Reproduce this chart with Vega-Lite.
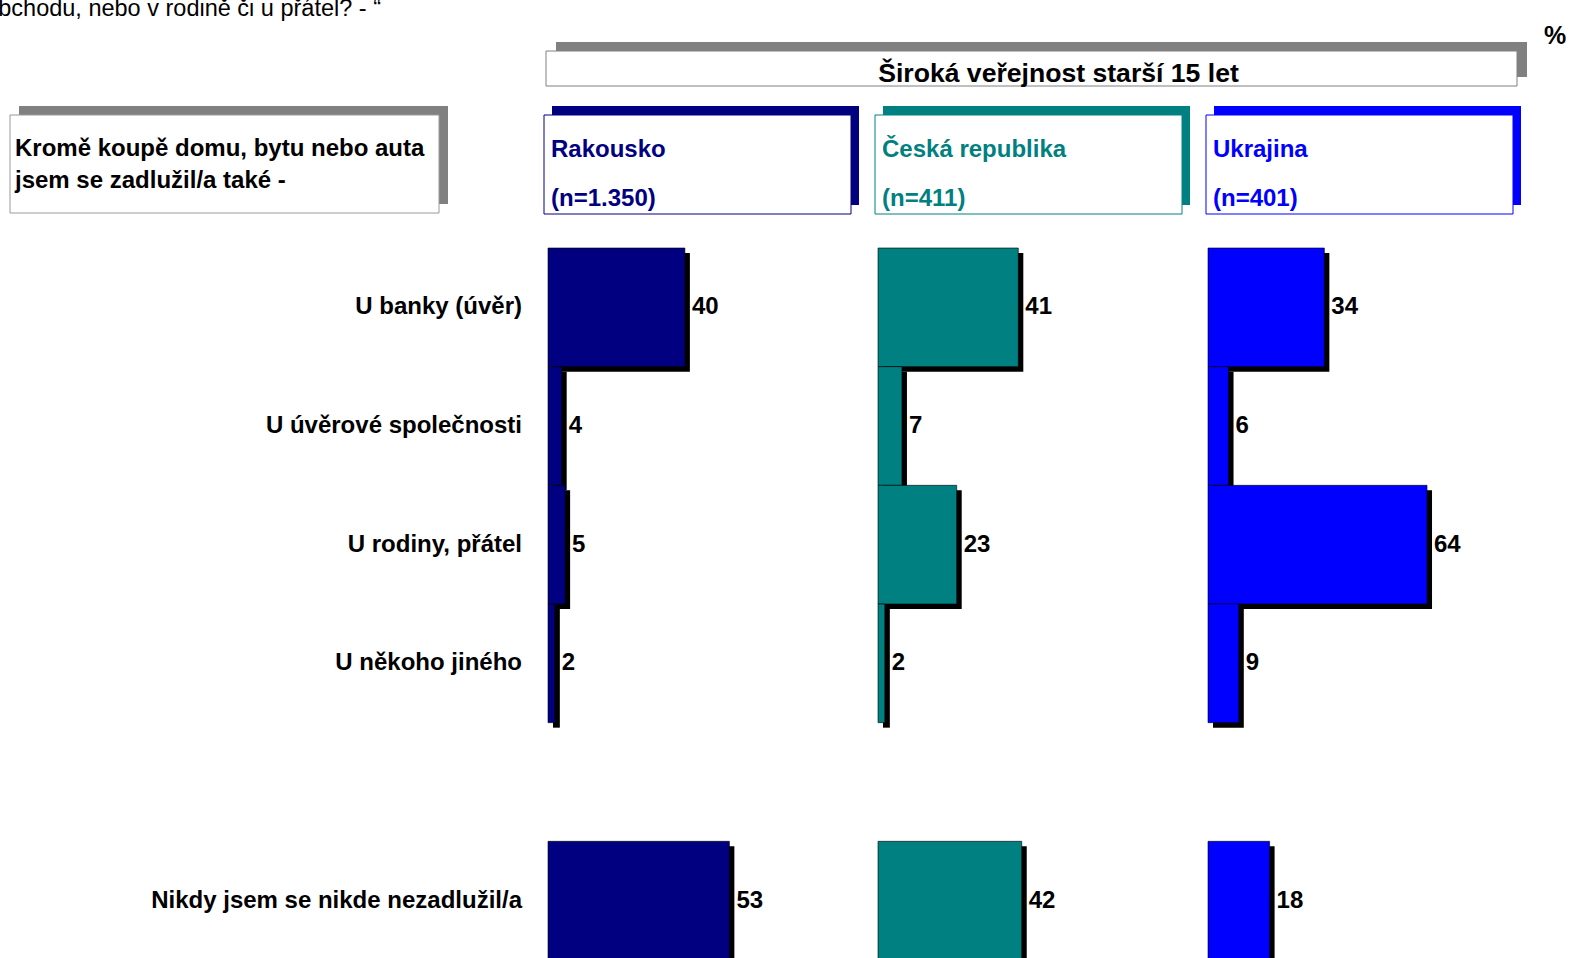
{
  "$schema": "https://vega.github.io/schema/vega-lite/v6.json",
  "autosize": {"type": "none"},
  "padding": {"left": 10, "top": 51, "right": 1559, "bottom": 907},
  "background": "white",
  "config": {"view": {"stroke": null}, "font": "Liberation Sans"},
  "datasets": {
    "bars": [
      {"country": "Rakousko", "cat": "U banky (úvěr)", "value": 40},
      {"country": "Rakousko", "cat": "U úvěrové společnosti", "value": 4},
      {"country": "Rakousko", "cat": "U rodiny, přátel", "value": 5},
      {"country": "Rakousko", "cat": "U někoho jiného", "value": 2},
      {"country": "Rakousko", "cat": "Nikdy jsem se nikde nezadlužil/a", "value": 53},
      {"country": "Česká republika", "cat": "U banky (úvěr)", "value": 41},
      {"country": "Česká republika", "cat": "U úvěrové společnosti", "value": 7},
      {"country": "Česká republika", "cat": "U rodiny, přátel", "value": 23},
      {"country": "Česká republika", "cat": "U někoho jiného", "value": 2},
      {"country": "Česká republika", "cat": "Nikdy jsem se nikde nezadlužil/a", "value": 42},
      {"country": "Ukrajina", "cat": "U banky (úvěr)", "value": 34},
      {"country": "Ukrajina", "cat": "U úvěrové společnosti", "value": 6},
      {"country": "Ukrajina", "cat": "U rodiny, přátel", "value": 64},
      {"country": "Ukrajina", "cat": "U někoho jiného", "value": 9},
      {"country": "Ukrajina", "cat": "Nikdy jsem se nikde nezadlužil/a", "value": 18}
    ],
    "headers": [
      {"country": "Rakousko", "n": "(n=1.350)"},
      {"country": "Česká republika", "n": "(n=411)"},
      {"country": "Ukrajina", "n": "(n=401)"}
    ]
  },
  "spacing": 18,
  "bounds": "full",
  "vconcat": [
    {
      "spacing": 16,
      "bounds": "flush",
      "hconcat": [
        {
          "width": 520, "height": 35,
          "data": {"values": [{"t": "v obchodu, nebo v rodině či u přátel? - “"}]},
          "mark": {"type": "text", "align": "right", "baseline": "alphabetic", "dx": 371, "dy": -35, "fontSize": 23.5, "color": "#000000"},
          "encoding": {
            "x": {"datum": 0, "type": "quantitative", "scale": {"domain": [0, 1], "nice": false}, "axis": null},
            "y": {"datum": 1, "type": "quantitative", "scale": {"domain": [0, 1], "nice": false}, "axis": null},
            "text": {"field": "t"}
          }
        },
        {
          "width": 971, "height": 35,
          "data": {"values": [{"t": "Široká veřejnost starší 15 let", "p": "%"}]},
          "encoding": {
            "x": {"datum": 0, "type": "quantitative", "scale": {"domain": [0, 1], "nice": false, "zero": false}, "axis": null},
            "y": {"datum": 0, "type": "quantitative", "scale": {"domain": [0, 1], "nice": false, "zero": false}, "axis": null}
          },
          "layer": [
            {"mark": {"type": "rect", "fill": "#808080", "xOffset": 10, "x2Offset": 10, "yOffset": -9, "y2Offset": -9},
             "encoding": {"x2": {"datum": 1}, "y2": {"datum": 1}}},
            {"mark": {"type": "rect", "fill": "#ffffff", "stroke": "#808080", "strokeWidth": 1},
             "encoding": {"x2": {"datum": 1}, "y2": {"datum": 1}}},
            {"mark": {"type": "text", "align": "center", "baseline": "alphabetic", "dx": 27, "dy": -4, "fontSize": 26.6, "fontWeight": "bold", "color": "#000000"},
             "encoding": {"x": {"datum": 0.5}, "y": {"datum": 0}, "text": {"field": "t"}}},
            {"mark": {"type": "text", "align": "left", "baseline": "alphabetic", "dx": 27, "dy": -7, "fontSize": 25, "fontWeight": "bold", "color": "#000000"},
             "encoding": {"x": {"datum": 1}, "y": {"datum": 1}, "text": {"field": "p"}}}
          ]
        }
      ]
    },
    {
      "spacing": 32,
      "bounds": "full",
      "vconcat": [
        {
          "spacing": 105,
          "bounds": "flush",
          "hconcat": [
            {
              "width": 429, "height": 98,
              "data": {"values": [{"q": ["Kromě koupě domu, bytu nebo auta", "jsem se zadlužil/a také -"]}]},
              "encoding": {
                "x": {"datum": 0, "type": "quantitative", "scale": {"domain": [0, 1], "nice": false, "zero": false}, "axis": null},
                "y": {"datum": 0, "type": "quantitative", "scale": {"domain": [0, 1], "nice": false, "zero": false}, "axis": null}
              },
              "layer": [
                {"mark": {"type": "rect", "fill": "#808080", "xOffset": 9, "x2Offset": 9, "yOffset": -9, "y2Offset": -9},
                 "encoding": {"x2": {"datum": 1}, "y2": {"datum": 1}}},
                {"mark": {"type": "rect", "fill": "#ffffff", "stroke": "#9a9a9a", "strokeWidth": 1},
                 "encoding": {"x2": {"datum": 1}, "y2": {"datum": 1}}},
                {"mark": {"type": "text", "align": "left", "baseline": "middle", "dx": 5, "dy": -15, "lineHeight": 32, "fontSize": 24, "fontWeight": "bold", "color": "#000000"},
                 "encoding": {"y": {"datum": 0.5}, "text": {"field": "q"}}}
              ]
            },
            {
              "spacing": 24,
              "bounds": "flush",
              "hconcat": [
                {
                  "width": 307, "height": 99,
                  "data": {"name": "headers"},
                  "transform": [{"filter": "datum.country === 'Rakousko'"}],
                  "encoding": {
                    "x": {"datum": 0, "type": "quantitative", "scale": {"domain": [0, 1], "nice": false, "zero": false}, "axis": null},
                    "y": {"datum": 0, "type": "quantitative", "scale": {"domain": [0, 1], "nice": false, "zero": false}, "axis": null}
                  },
                  "layer": [
                    {"mark": {"type": "rect", "fill": "#000080", "xOffset": 8, "x2Offset": 8, "yOffset": -9, "y2Offset": -9},
                     "encoding": {"x2": {"datum": 1}, "y2": {"datum": 1}}},
                    {"mark": {"type": "rect", "fill": "#ffffff", "stroke": "#000080", "strokeWidth": 1},
                     "encoding": {"x2": {"datum": 1}, "y2": {"datum": 1}}},
                    {"mark": {"type": "text", "align": "left", "baseline": "middle", "dx": 7, "dy": 35, "fontSize": 24, "fontWeight": "bold", "color": "#000080"},
                     "encoding": {"y": {"datum": 1}, "text": {"field": "country"}}},
                    {"mark": {"type": "text", "align": "left", "baseline": "middle", "dx": 7, "dy": 84, "fontSize": 24, "fontWeight": "bold", "color": "#000080"},
                     "encoding": {"y": {"datum": 1}, "text": {"field": "n"}}}
                  ]
                },
                {
                  "width": 307, "height": 99,
                  "data": {"name": "headers"},
                  "transform": [{"filter": "datum.country === 'Česká republika'"}],
                  "encoding": {
                    "x": {"datum": 0, "type": "quantitative", "scale": {"domain": [0, 1], "nice": false, "zero": false}, "axis": null},
                    "y": {"datum": 0, "type": "quantitative", "scale": {"domain": [0, 1], "nice": false, "zero": false}, "axis": null}
                  },
                  "layer": [
                    {"mark": {"type": "rect", "fill": "#008080", "xOffset": 8, "x2Offset": 8, "yOffset": -9, "y2Offset": -9},
                     "encoding": {"x2": {"datum": 1}, "y2": {"datum": 1}}},
                    {"mark": {"type": "rect", "fill": "#ffffff", "stroke": "#008080", "strokeWidth": 1},
                     "encoding": {"x2": {"datum": 1}, "y2": {"datum": 1}}},
                    {"mark": {"type": "text", "align": "left", "baseline": "middle", "dx": 7, "dy": 35, "fontSize": 24, "fontWeight": "bold", "color": "#008080"},
                     "encoding": {"y": {"datum": 1}, "text": {"field": "country"}}},
                    {"mark": {"type": "text", "align": "left", "baseline": "middle", "dx": 7, "dy": 84, "fontSize": 24, "fontWeight": "bold", "color": "#008080"},
                     "encoding": {"y": {"datum": 1}, "text": {"field": "n"}}}
                  ]
                },
                {
                  "width": 307, "height": 99,
                  "data": {"name": "headers"},
                  "transform": [{"filter": "datum.country === 'Ukrajina'"}],
                  "encoding": {
                    "x": {"datum": 0, "type": "quantitative", "scale": {"domain": [0, 1], "nice": false, "zero": false}, "axis": null},
                    "y": {"datum": 0, "type": "quantitative", "scale": {"domain": [0, 1], "nice": false, "zero": false}, "axis": null}
                  },
                  "layer": [
                    {"mark": {"type": "rect", "fill": "#0000ff", "xOffset": 8, "x2Offset": 8, "yOffset": -9, "y2Offset": -9},
                     "encoding": {"x2": {"datum": 1}, "y2": {"datum": 1}}},
                    {"mark": {"type": "rect", "fill": "#ffffff", "stroke": "#0000ff", "strokeWidth": 1},
                     "encoding": {"x2": {"datum": 1}, "y2": {"datum": 1}}},
                    {"mark": {"type": "text", "align": "left", "baseline": "middle", "dx": 7, "dy": 35, "fontSize": 24, "fontWeight": "bold", "color": "#0000ff"},
                     "encoding": {"y": {"datum": 1}, "text": {"field": "country"}}},
                    {"mark": {"type": "text", "align": "left", "baseline": "middle", "dx": 7, "dy": 84, "fontSize": 24, "fontWeight": "bold", "color": "#0000ff"},
                     "encoding": {"y": {"datum": 1}, "text": {"field": "n"}}}
                  ]
                }
              ]
            }
          ]
        },
        {
          "spacing": 26,
          "bounds": "flush",
          "hconcat": [
            {
              "width": 512, "height": 712,
              "data": {"name": "bars"},
              "transform": [{"filter": "datum.country === 'Rakousko'"}],
              "mark": {"type": "text", "align": "right", "baseline": "middle", "fontSize": 24, "fontWeight": "bold", "color": "#000000"},
              "encoding": {
                "x": {"datum": 1, "type": "quantitative", "scale": {"domain": [0, 1], "nice": false}, "axis": null},
                "y": {"field": "cat", "type": "nominal", "sort": null, "axis": null,
                      "scale": {"domain": ["U banky (úvěr)", "U úvěrové společnosti", "U rodiny, přátel", "U někoho jiného", " ", "Nikdy jsem se nikde nezadlužil/a"], "paddingInner": 0, "paddingOuter": 0}},
                "text": {"field": "cat"}
              }
            },
            {
              "spacing": 22,
              "bounds": "flush",
              "hconcat": [
                {
                  "width": 308, "height": 712,
                  "data": {"name": "bars"},
                  "transform": [{"filter": "datum.country === 'Rakousko'"}],
                  "encoding": {
                    "x": {"field": "value", "type": "quantitative", "scale": {"domain": [0, 90], "nice": false}, "axis": null},
                    "y": {"field": "cat", "type": "nominal", "sort": null, "axis": null,
                          "scale": {"domain": ["U banky (úvěr)", "U úvěrové společnosti", "U rodiny, přátel", "U někoho jiného", " ", "Nikdy jsem se nikde nezadlužil/a"], "paddingInner": 0, "paddingOuter": 0}}
                  },
                  "layer": [
                    {"mark": {"type": "bar", "fill": "#000000", "xOffset": 5, "x2Offset": 5, "yOffset": 5, "y2Offset": 5}},
                    {"mark": {"type": "bar", "fill": "#000080", "stroke": "#000000", "strokeWidth": 1, "strokeOpacity": 0.6}},
                    {"mark": {"type": "text", "align": "left", "baseline": "middle", "dx": 7, "fontSize": 24, "fontWeight": "bold", "color": "#000000"},
                     "encoding": {"text": {"field": "value", "type": "quantitative"}}}
                  ]
                },
                {
                  "width": 308, "height": 712,
                  "data": {"name": "bars"},
                  "transform": [{"filter": "datum.country === 'Česká republika'"}],
                  "encoding": {
                    "x": {"field": "value", "type": "quantitative", "scale": {"domain": [0, 90], "nice": false}, "axis": null},
                    "y": {"field": "cat", "type": "nominal", "sort": null, "axis": null,
                          "scale": {"domain": ["U banky (úvěr)", "U úvěrové společnosti", "U rodiny, přátel", "U někoho jiného", " ", "Nikdy jsem se nikde nezadlužil/a"], "paddingInner": 0, "paddingOuter": 0}}
                  },
                  "layer": [
                    {"mark": {"type": "bar", "fill": "#000000", "xOffset": 5, "x2Offset": 5, "yOffset": 5, "y2Offset": 5}},
                    {"mark": {"type": "bar", "fill": "#008080", "stroke": "#000000", "strokeWidth": 1, "strokeOpacity": 0.6}},
                    {"mark": {"type": "text", "align": "left", "baseline": "middle", "dx": 7, "fontSize": 24, "fontWeight": "bold", "color": "#000000"},
                     "encoding": {"text": {"field": "value", "type": "quantitative"}}}
                  ]
                },
                {
                  "width": 308, "height": 712,
                  "data": {"name": "bars"},
                  "transform": [{"filter": "datum.country === 'Ukrajina'"}],
                  "encoding": {
                    "x": {"field": "value", "type": "quantitative", "scale": {"domain": [0, 90], "nice": false}, "axis": null},
                    "y": {"field": "cat", "type": "nominal", "sort": null, "axis": null,
                          "scale": {"domain": ["U banky (úvěr)", "U úvěrové společnosti", "U rodiny, přátel", "U někoho jiného", " ", "Nikdy jsem se nikde nezadlužil/a"], "paddingInner": 0, "paddingOuter": 0}}
                  },
                  "layer": [
                    {"mark": {"type": "bar", "fill": "#000000", "xOffset": 5, "x2Offset": 5, "yOffset": 5, "y2Offset": 5}},
                    {"mark": {"type": "bar", "fill": "#0000ff", "stroke": "#000000", "strokeWidth": 1, "strokeOpacity": 0.6}},
                    {"mark": {"type": "text", "align": "left", "baseline": "middle", "dx": 7, "fontSize": 24, "fontWeight": "bold", "color": "#000000"},
                     "encoding": {"text": {"field": "value", "type": "quantitative"}}}
                  ]
                }
              ]
            }
          ]
        }
      ]
    }
  ]
}
